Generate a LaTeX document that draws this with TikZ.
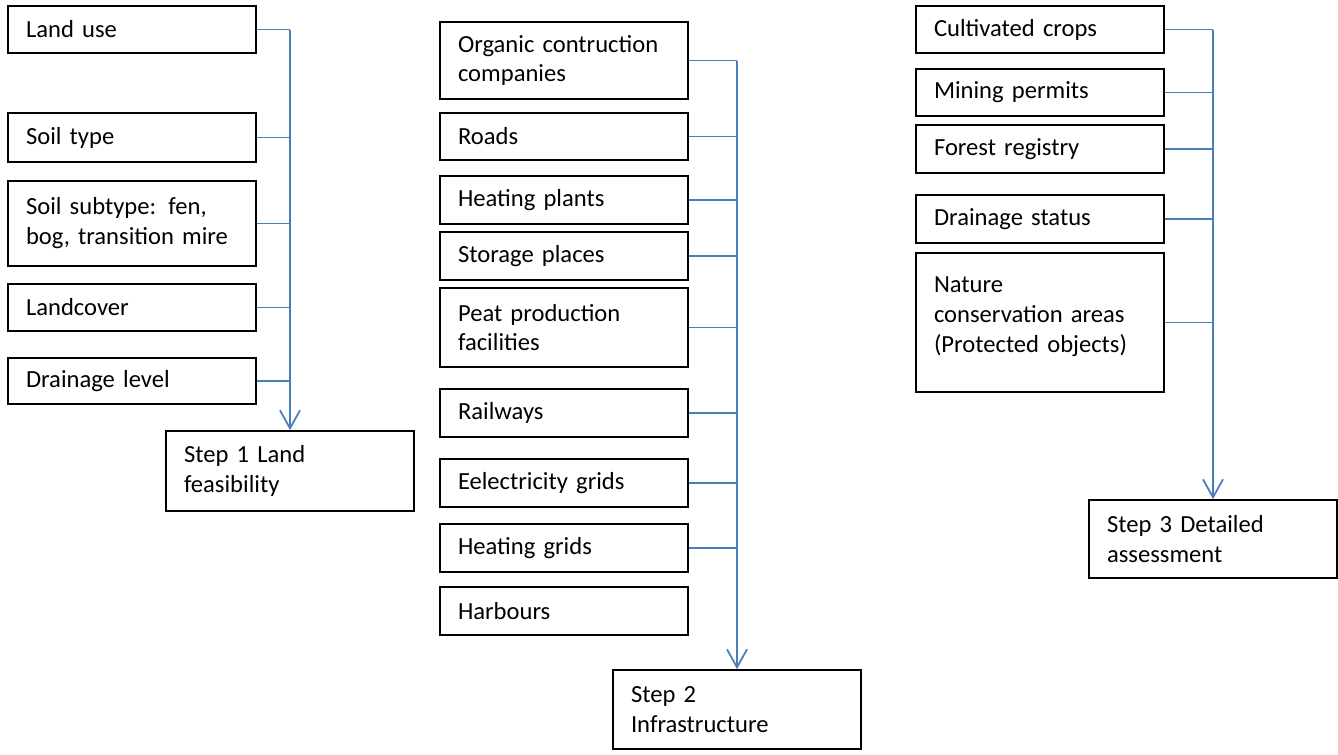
\documentclass[tikz,border=0pt]{standalone}
\usepackage{fontspec}
\setmainfont{Carlito}
\usetikzlibrary{arrows.meta}
\definecolor{linkblue}{HTML}{4A7EBB}

\begin{document}
\begin{tikzpicture}[x=0.02cm, y=-0.02cm,
    box/.style={draw, line width=1pt, text width=4.24cm, inner xsep=0.36cm,
                align=left, font=\fontsize{14}{17}\selectfont},
    link/.style={linkblue, line width=1pt},
    flow/.style={link, -{Straight Barb[length=3.6mm, width=4mm]}}]

    % fix the canvas
    \useasboundingbox (0,0) rectangle (1338,754);

    % ================= Step 1: land feasibility =================
    \node[box, minimum height=0.94cm] (landuse)   at (132, 29.5)  {Land use};
    \node[box, minimum height=0.98cm] (soiltype)  at (132, 137.5) {Soil type};
    \node[box, minimum height=1.70cm] (subtype)   at (132, 223.5) {Soil subtype: fen,\\bog, transition mire};
    \node[box, minimum height=0.94cm] (landcover) at (132, 307.5) {Landcover};
    \node[box, minimum height=0.92cm] (drainlvl)  at (132, 381)   {Drainage level};
    \node[box, minimum height=1.60cm] (step1)     at (290, 471)   {Step 1 Land\\feasibility};

    \draw[flow] (landuse.east -| step1.north) -- (step1.north);
    \foreach \src in {landuse, soiltype, subtype, landcover, drainlvl}
        \draw[link] (\src.east) -- (\src.east -| step1.north);

    % ================= Step 2: infrastructure =================
    \node[box, minimum height=1.54cm] (organic)  at (564, 60.5)  {Organic contruction\\companies};
    \node[box, minimum height=0.94cm] (roads)    at (564, 136.5) {Roads};
    \node[box, minimum height=0.96cm] (heatpl)   at (564, 200)   {Heating plants};
    \node[box, minimum height=0.96cm] (storage)  at (564, 256)   {Storage places};
    \node[box, minimum height=1.58cm] (peat)     at (564, 327.5) {Peat production\\facilities};
    \node[box, minimum height=0.96cm] (railways) at (564, 413)   {Railways};
    \node[box, minimum height=0.96cm] (elgrids)  at (564, 483)   {Eelectricity grids};
    \node[box, minimum height=0.96cm] (heatgr)   at (564, 548)   {Heating grids};
    \node[box, minimum height=0.96cm] (harbours) at (564, 611)   {Harbours};
    \node[box, minimum height=1.58cm] (step2)    at (737, 709.5) {Step 2\\Infrastructure};

    \draw[flow] (organic.east -| step2.north) -- (step2.north);
    \foreach \src in {organic, roads, heatpl, storage, peat, railways, elgrids, heatgr}
        \draw[link] (\src.east) -- (\src.east -| step2.north);

    % ================= Step 3: detailed assessment =================
    \node[box, minimum height=0.94cm] (crops)     at (1040, 29.5)  {Cultivated crops};
    \node[box, minimum height=0.94cm] (mining)    at (1040, 92.5)  {Mining permits};
    \node[box, minimum height=0.96cm] (forest)    at (1040, 149)   {Forest registry};
    \node[box, minimum height=0.96cm] (drainst)   at (1040, 219)   {Drainage status};
    % text sits a little above the middle here
    \node[box, minimum height=2.78cm] (nature)    at (1040, 322.5) {Nature\\conservation areas\\(Protected objects)\\[-8pt]\mbox{}};
    \node[box, minimum height=1.56cm] (step3)     at (1213, 539)   {Step 3 Detailed\\assessment};

    \draw[flow] (crops.east -| step3.north) -- (step3.north);
    \foreach \src in {crops, mining, forest, drainst, nature}
        \draw[link] (\src.east) -- (\src.east -| step3.north);

\end{tikzpicture}
\end{document}
